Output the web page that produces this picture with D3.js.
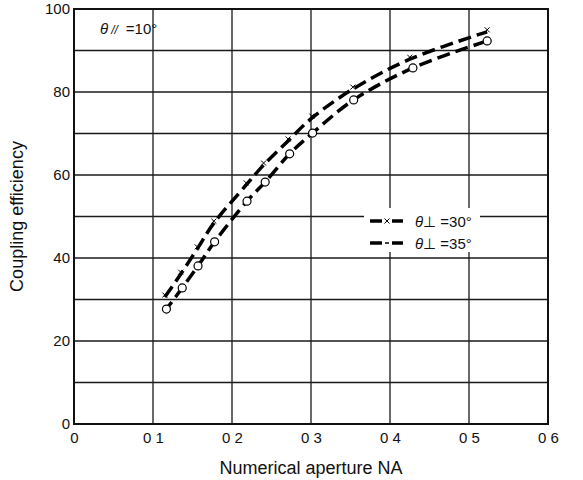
<!DOCTYPE html>
<html>
<head>
<meta charset="utf-8">
<script src="https://cdn.jsdelivr.net/npm/d3@7"></script>
<style>
  body { margin: 0; background: #fff; }
  svg text { font-family: "Liberation Sans", Arial, sans-serif; fill: #111; }
</style>
</head>
<body>
<div id="chart"></div>
<script>
// Coupling efficiency vs numerical aperture, theta// = 10 deg
var xTicks = [0, 0.1, 0.2, 0.3, 0.4, 0.5, 0.6];
var xTickLabels = ["0", "0 1", "0 2", "0 3", "0 4", "0 5", "0 6"];
var yTicks = [0, 20, 40, 60, 80, 100];
var yGrid = [10, 20, 30, 40, 50, 60, 70, 80, 90];

// theta perp = 30 deg (crosses)
var na30 = [0.115, 0.135, 0.156, 0.177, 0.218, 0.240, 0.271, 0.301, 0.353, 0.425, 0.523];
var eff30 = [30.6, 36.1, 42.2, 48.4, 57.6, 62.4, 68.2, 73.7, 80.7, 87.9, 94.5];
// theta perp = 35 deg (circles)
var na35 = [0.117, 0.137, 0.157, 0.178, 0.219, 0.242, 0.273, 0.302, 0.354, 0.429, 0.523];
var eff35 = [27.7, 32.8, 38.1, 43.9, 53.7, 58.3, 65.1, 70.1, 78.1, 85.8, 92.3];

var legendAngles = ["30°", "35°"];

var margin = { top: 9, right: 35, bottom: 56, left: 74 };
var width = 583 - margin.left - margin.right;
var height = 480 - margin.top - margin.bottom;

var svg = d3
  .select("#chart")
  .append("svg")
  .attr("width", 583)
  .attr("height", 480)
  .append("g")
  .attr("transform", "translate(" + margin.left + "," + margin.top + ")");

var x = d3.scaleLinear().domain([0, 0.6]).range([0, width]);
var y = d3.scaleLinear().domain([0, 100]).range([height, 0]);

// grid
svg.selectAll(".vgrid")
  .data(xTicks.slice(1, -1))
  .enter()
  .append("line")
  .attr("x1", function (d) { return x(d); })
  .attr("x2", function (d) { return x(d); })
  .attr("y1", 0)
  .attr("y2", height)
  .attr("stroke", "#1a1a1a")
  .attr("stroke-width", 1.3);

svg.selectAll(".hgrid")
  .data(yGrid)
  .enter()
  .append("line")
  .attr("x1", 0)
  .attr("x2", width)
  .attr("y1", function (d) { return y(d); })
  .attr("y2", function (d) { return y(d); })
  .attr("stroke", "#1a1a1a")
  .attr("stroke-width", 1.3);

// frame
svg.append("rect")
  .attr("width", width)
  .attr("height", height)
  .attr("fill", "none")
  .attr("stroke", "#111")
  .attr("stroke-width", 2);

// axes (labels only)
var xAxis = svg.append("g")
  .attr("transform", "translate(0," + height + ")")
  .call(d3.axisBottom(x).tickValues(xTicks).tickSize(0).tickPadding(8)
    .tickFormat(function (d, i) { return xTickLabels[i]; }));
xAxis.select(".domain").remove();
xAxis.selectAll("text").style("font-size", "15px");
xAxis.attr("font-size", null).attr("font-family", null);

var yAxis = svg.append("g")
  .call(d3.axisLeft(y).tickValues(yTicks).tickSize(0).tickPadding(4));
yAxis.select(".domain").remove();
yAxis.selectAll("text").style("font-size", "15px");
yAxis.attr("font-size", null).attr("font-family", null);

svg.append("text")
  .attr("x", width / 2)
  .attr("y", height + 50)
  .attr("text-anchor", "middle")
  .style("font-size", "18px")
  .text("Numerical aperture NA");

svg.append("text")
  .attr("transform", "translate(" + (-51) + "," + (height / 2) + ")rotate(-90)")
  .attr("text-anchor", "middle")
  .style("font-size", "18px")
  .text("Coupling efficiency");

// annotation
svg.append("text")
  .attr("x", 26)
  .attr("y", 25)
  .style("font-size", "15px")
  .html('<tspan font-style="italic">θ</tspan><tspan font-style="italic" font-size="12px" dx="3">//</tspan><tspan dx="8">=10°</tspan>');

// curves
var data30 = na30.map(function (d, i) { return [d, eff30[i]]; });
var data35 = na35.map(function (d, i) { return [d, eff35[i]]; });

var line = d3.line()
  .x(function (d) { return x(d[0]); })
  .y(function (d) { return y(d[1]); })
  .curve(d3.curveCatmullRom.alpha(0.5));

var dash = "13,6";

svg.append("path")
  .datum(data30)
  .attr("d", line)
  .attr("fill", "none")
  .attr("stroke", "#000")
  .attr("stroke-width", 3.5)
  .attr("stroke-dasharray", dash);

svg.append("path")
  .datum(data35)
  .attr("d", line)
  .attr("fill", "none")
  .attr("stroke", "#000")
  .attr("stroke-width", 3.5)
  .attr("stroke-dasharray", dash)
  .attr("stroke-dashoffset", 4);

// crosses
var times = d3.symbol().type(d3.symbolTimes).size(18);
svg.selectAll(".cross")
  .data(data30)
  .enter()
  .append("path")
  .attr("d", times)
  .attr("transform", function (d) { return "translate(" + x(d[0]) + "," + (y(d[1]) - 2) + ")"; })
  .attr("fill", "none")
  .attr("stroke", "#000")
  .attr("stroke-width", 1);

// circles
svg.selectAll(".circ")
  .data(data35)
  .enter()
  .append("circle")
  .attr("cx", function (d) { return x(d[0]); })
  .attr("cy", function (d) { return y(d[1]); })
  .attr("r", 4)
  .attr("fill", "#fff")
  .attr("stroke", "#000")
  .attr("stroke-width", 1.2);

// legend
var leg = svg.append("g").attr("transform", "translate(" + (370 - margin.left) + "," + (221 - margin.top) + ")");
leg.append("rect")
  .attr("x", -6)
  .attr("y", -13)
  .attr("width", 116)
  .attr("height", 44)
  .attr("fill", "#fff");

legendAngles.forEach(function (ang, i) {
  var ly = i * 22;
  leg.append("line")
    .attr("x1", 0).attr("x2", 12)
    .attr("y1", ly).attr("y2", ly)
    .attr("stroke", "#000").attr("stroke-width", 3.5);
  leg.append("line")
    .attr("x1", 22).attr("x2", 33)
    .attr("y1", ly).attr("y2", ly)
    .attr("stroke", "#000").attr("stroke-width", 3.5);
  if (i === 0) {
    leg.append("path")
      .attr("d", times)
      .attr("transform", "translate(17," + ly + ")")
      .attr("stroke", "#000").attr("stroke-width", 1);
  } else {
    leg.append("line")
      .attr("x1", 15).attr("x2", 19)
      .attr("y1", ly).attr("y2", ly)
      .attr("stroke", "#000").attr("stroke-width", 1.5);
  }
  leg.append("text")
    .attr("x", 45)
    .attr("y", ly + 6)
    .style("font-size", "15px")
    .html('<tspan font-style="italic">θ</tspan>⊥ =' + ang);
});
</script>
</body>
</html>
